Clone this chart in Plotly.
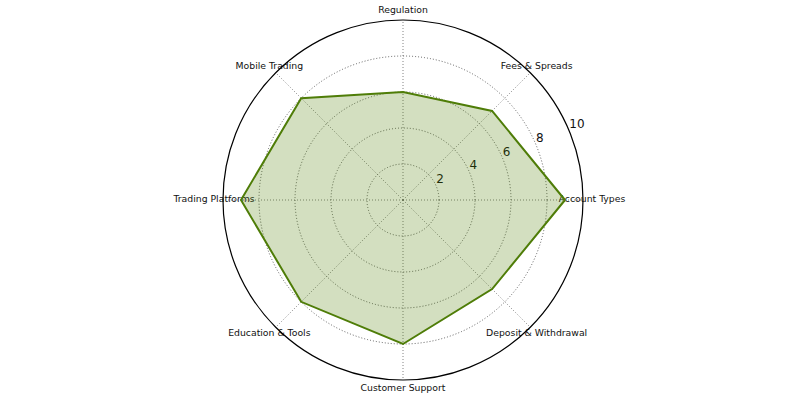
import plotly.graph_objects as go

categories = ["Account Types", "Fees & Spreads", "Regulation", "Mobile Trading",
              "Trading Platforms", "Education & Tools", "Customer Support",
              "Deposit & Withdrawal"]
values = [9, 7, 6, 8, 9, 8, 8, 7]
radial_ticks = [2, 4, 6, 8, 10]

# layout / style constants
W, H = 800, 400
CX, CY = 403, 200          # centre in px
R_PX = 180                 # pixel radius of r = 10
R_MAX = 10
LABEL_R = 10.5             # radius where category labels are centred
LABEL_RANGE = 10.6         # range of the overlay polar used for labels
RADIAL_LABEL_ANGLE = 22.5
TEXT_COLOR = "#111"

n = len(categories)
cat_angles = [i * 360 / n for i in range(n)]

theta = categories + categories[:1]
r = values + values[:1]


def domain(radius_px):
    return dict(x=[(CX - radius_px) / W, (CX + radius_px) / W],
                y=[(H - CY - radius_px) / H, (H - CY + radius_px) / H])


fig = go.Figure()
# data polygon in the main polar
fig.add_trace(go.Scatterpolar(
    r=r, theta=theta, mode="lines", fill="toself",
    line=dict(color="rgb(79,125,8)", width=2),
    fillcolor="rgba(79,127,3,0.25)",
    hoverinfo="skip", showlegend=False, subplot="polar2",
))
# category labels (overlay polar, numeric angles)
fig.add_trace(go.Scatterpolar(
    r=[LABEL_R] * n, theta=cat_angles,
    mode="text", text=categories, textposition="middle center",
    textfont=dict(family="DejaVu Sans", size=9.3, color=TEXT_COLOR),
    cliponaxis=False, hoverinfo="skip", showlegend=False, subplot="polar",
))
# radial tick labels
fig.add_trace(go.Scatterpolar(
    r=radial_ticks, theta=[RADIAL_LABEL_ANGLE] * len(radial_ticks),
    mode="text", text=[str(t) for t in radial_ticks], textposition="top right",
    textfont=dict(family="DejaVu Sans", size=12, color=TEXT_COLOR),
    cliponaxis=False, hoverinfo="skip", showlegend=False, subplot="polar",
))

grid_dash = "1px,2px"
fig.update_layout(
    width=W, height=H,
    margin=dict(l=0, r=0, t=0, b=0),
    paper_bgcolor="white",
    font=dict(family="DejaVu Sans", color=TEXT_COLOR),
    polar=dict(
        domain=domain(R_PX * LABEL_RANGE / R_MAX),
        bgcolor="rgba(0,0,0,0)",
        angularaxis=dict(visible=False, type="linear", thetaunit="degrees",
                         rotation=0, direction="counterclockwise"),
        radialaxis=dict(visible=False, range=[0, LABEL_RANGE]),
    ),
    polar2=dict(
        domain=domain(R_PX),
        bgcolor="rgba(0,0,0,0)",
        angularaxis=dict(
            rotation=0, direction="counterclockwise",
            showline=True, linecolor="black", linewidth=1.2,
            gridcolor="rgba(90,90,90,0.75)", griddash=grid_dash, gridwidth=0.7,
            ticks="", showticklabels=False,
        ),
        radialaxis=dict(
            range=[0, R_MAX], tickvals=radial_ticks,
            showline=False, ticks="", showticklabels=False,
            gridcolor="rgba(60,60,60,0.8)", griddash=grid_dash, gridwidth=0.8,
        ),
    ),
)

fig.write_html("out.html")
